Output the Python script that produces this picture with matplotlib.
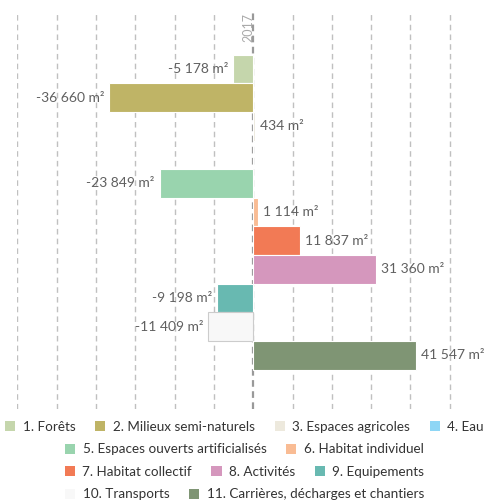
import numpy as np
import matplotlib.pyplot as plt
from matplotlib.patches import Patch

plt.rcParams['font.family'] = ['Lato', 'DejaVu Sans']

categories = ["1. Forêts", "2. Milieux semi-naturels", "3. Espaces agricoles", "4. Eau",
              "5. Espaces ouverts artificialisés", "6. Habitat individuel",
              "7. Habitat collectif", "8. Activités", "9. Equipements",
              "10. Transports", "11. Carrières, décharges et chantiers"]
values = [-5178, -36660, 434, np.nan, -23849, 1114, 11837, 31360, -9198, -11409, 41547]
colors = ["#c5d6ac", "#bfb466", "#ede9dd", "#8ed6f5", "#99d4ae", "#f9bc94",
          "#f27a55", "#d597bd", "#68b9b1", "#f8f8f8", "#7f9574"]
year = "2017"
legend_rows = [[0, 1, 2, 3], [4, 5], [6, 7, 8], [9, 10]]

W, H = 489, 503
fig = plt.figure(figsize=(W / 100, H / 100), dpi=100)
ax = fig.add_axes([17.5 / W, (H - 409) / H, 471.5 / W, 396 / H])

y = np.arange(len(categories))
vals = np.nan_to_num(np.array(values, dtype=float))
edges = ['white'] * len(categories)
edges[9] = '#cccccc'
ax.barh(y, vals, height=1.0, color=colors, edgecolor=edges, linewidth=0.8, zorder=3)

ax.set_xlim(-60000, 60000)
ax.set_ylim(11.87, -1.95)
for x in np.arange(-60000, 60001, 10000):
    if x == 0:
        ax.axvline(0, color='#999999', lw=1.6, ls=(0, (3, 2)), zorder=2)
    else:
        ax.axvline(x, color='#c0c0c0', lw=1.0, ls=(0, (4, 3)), zorder=1)

for i, v in enumerate(values):
    if np.isnan(v):
        continue
    txt = f"{int(v):,}".replace(',', ' ') + " m²"
    off = 5 if v > 0 else -5
    ax.annotate(txt, (v, i), xytext=(off, 0), textcoords='offset pixels',
                ha='left' if v > 0 else 'right', va='center',
                fontsize=10, color='#606060', zorder=5)

ax.text(-1300, -1.95, year, rotation=90, ha='center', va='top',
        fontsize=9, color='#aaaaaa')

ax.set_xticks([])
ax.set_yticks([])
for s in ax.spines.values():
    s.set_visible(False)

row_y = [426.7, 449.3, 471.7, 494.3]
for row, ry in zip(legend_rows, row_y):
    handles = [Patch(facecolor=colors[k], edgecolor='none') for k in row]
    labels = [categories[k] for k in row]
    fig.legend(handles, labels, loc='center', bbox_to_anchor=(0.5, 1 - ry / H),
               ncol=len(row), frameon=False, fontsize=9.75, labelcolor='#333333',
               handlelength=0.75, handleheight=0.75, handletextpad=0.55,
               columnspacing=1.45, borderpad=0, borderaxespad=0)

fig.savefig("out.png", dpi=100)
